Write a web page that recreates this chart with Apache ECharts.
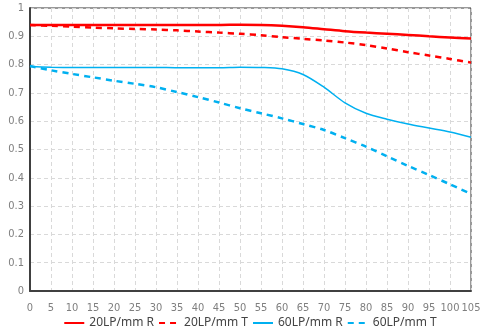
<!DOCTYPE html>
<html>
<head>
<meta charset="utf-8">
<script src="https://cdn.jsdelivr.net/npm/echarts@6/dist/echarts.min.js"></script>
<style>
html,body{margin:0;padding:0;background:#fff;}
#chart{width:500px;height:334px;}
</style>
</head>
<body>
<div id="chart"></div>
<script>
var xValues = [0,5,10,15,20,25,30,35,40,45,50,55,60,65,70,75,80,85,90,95,100,105];
var seriesNames = ['20LP/mm R','20LP/mm T','60LP/mm R','60LP/mm T'];
var lp20R = [0.940,0.940,0.940,0.940,0.940,0.940,0.940,0.940,0.940,0.940,0.941,0.940,0.937,0.932,0.925,0.918,0.913,0.909,0.905,0.900,0.896,0.892];
var lp20T = [0.940,0.937,0.934,0.931,0.928,0.926,0.924,0.921,0.917,0.913,0.909,0.904,0.897,0.891,0.885,0.878,0.869,0.857,0.844,0.832,0.820,0.807];
var lp60R = [0.793,0.791,0.790,0.790,0.790,0.790,0.790,0.789,0.789,0.789,0.791,0.790,0.785,0.765,0.720,0.665,0.628,0.607,0.590,0.576,0.562,0.543];
var lp60T = [0.795,0.780,0.767,0.755,0.743,0.732,0.720,0.703,0.685,0.666,0.646,0.628,0.610,0.590,0.569,0.540,0.510,0.476,0.442,0.410,0.377,0.343];

function pairs(vals){ return xValues.map(function(x,i){ return [x, vals[i]]; }); }

var chart = echarts.init(document.getElementById('chart'), null, {renderer:'canvas'});
var axisFont = {color:'#7f7f7f', fontSize:11, fontFamily:'"Liberation Sans Narrow","DejaVu Sans Condensed",sans-serif'};
function mk(name, vals, color, width, type){
  return {
    name: name, type: 'line', data: pairs(vals), smooth: 0.3, symbol: 'none',
    lineStyle: {color: color, width: width, type: type},
    itemStyle: {color: color}
  };
}
chart.setOption({
  animation: false,
  grid: {left:30, right:29, top:8, bottom:43, show:true, borderColor:'#333', borderWidth:1},
  legend: {
    bottom: 0, left: 'center', itemWidth: 20, itemHeight: 10, itemGap: 4,
    itemStyle: {opacity: 0},
    textStyle: {color:'#444', fontSize:12, fontFamily:'"Noto Sans",sans-serif'},
    data: seriesNames
  },
  xAxis: {
    type:'value', min:0, max:105, interval:5,
    axisLine:{show:true, onZero:false, lineStyle:{color:'#404040', width:2}},
    axisTick:{show:false},
    axisLabel: Object.assign({margin:12}, axisFont),
    splitLine:{show:true, lineStyle:{color:'#d9d9d9', type:[4,3], width:1}}
  },
  yAxis: {
    type:'value', min:0, max:1, interval:0.1,
    axisLine:{show:true, lineStyle:{color:'#404040', width:2}},
    axisTick:{show:false},
    axisLabel: Object.assign({margin:6}, axisFont),
    splitLine:{show:true, lineStyle:{color:'#d9d9d9', type:[4,3], width:1}}
  },
  series: [
    mk(seriesNames[0], lp20R, '#ff0000', 2.5, 'solid'),
    mk(seriesNames[1], lp20T, '#ff0000', 2.5, [6,5]),
    mk(seriesNames[2], lp60R, '#00b0f0', 1.5, 'solid'),
    mk(seriesNames[3], lp60T, '#00b0f0', 2.5, [6,5])
  ]
});
</script>
</body>
</html>
